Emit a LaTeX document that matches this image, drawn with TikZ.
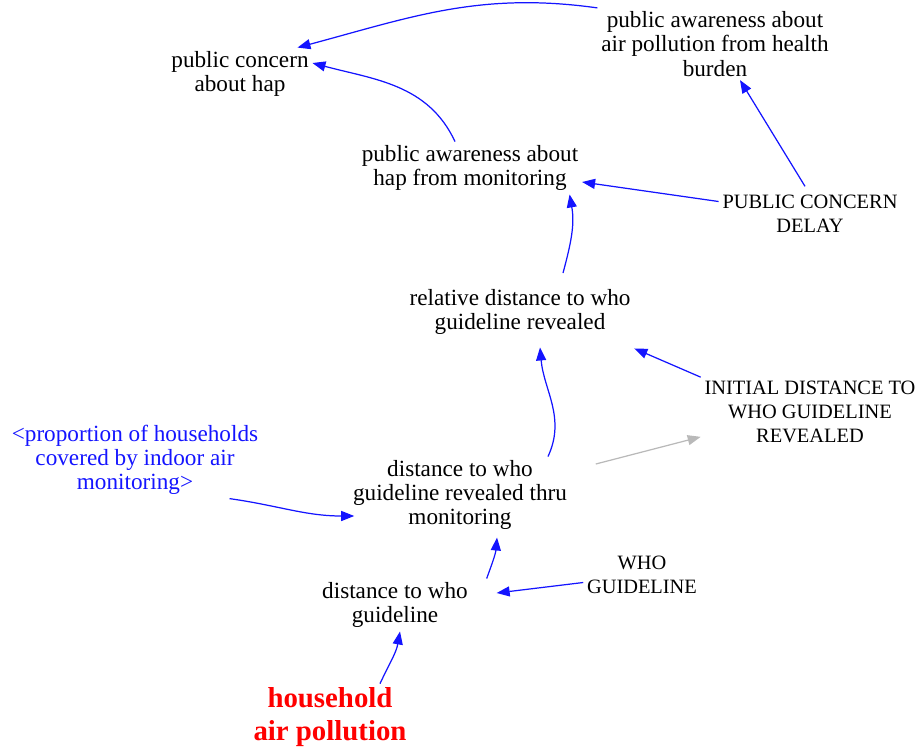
\documentclass[tikz,border=0pt]{standalone}
\usepackage{fontspec}
\setmainfont{Liberation Serif}
\usepackage{xcolor}
\usepackage{tikz}
\usetikzlibrary{positioning,calc,arrows.meta}

\definecolor{linkblue}{RGB}{20,20,255}
\definecolor{shadowgray}{RGB}{185,185,185}
\definecolor{hapred}{RGB}{255,0,0}

\tikzset{
  var/.style={align=center,inner sep=2pt,font=\fontsize{13.2}{13.7}\selectfont},
  constvar/.style={var,font=\fontsize{11.6}{13.7}\selectfont},
  shadowvar/.style={var,text=linkblue},
  keyvar/.style={align=center,inner sep=2pt,text=hapred,font=\bfseries\fontsize{16.4}{18.7}\selectfont},
  link/.style={draw=linkblue,line width=0.7pt,-{Triangle[length=2.6mm,width=2mm]}},
  graylink/.style={link,draw=shadowgray,-{Triangle[length=2.6mm,width=2mm,fill=shadowgray]}}
}

\begin{document}
\begin{tikzpicture}
    \useasboundingbox (0,0) rectangle (18.38,-15);
    % variables
    \node[var] (concern) at (4.80,-1.48) {public concern\\about hap};
    \node[var] (awareHealth) at (14.30,-0.88) {public awareness about\\air pollution from health\\burden};
    \node[var] (awareMon) at (9.40,-3.36) {public awareness about\\hap from monitoring};
    \node[constvar] (delay) at (16.20,-4.28) {PUBLIC CONCERN\\DELAY};
    \node[var] (relDist) at (10.40,-6.24) {relative distance to who\\guideline revealed};
    \node[constvar] (initDist) at (16.20,-8.24) {INITIAL DISTANCE TO\\WHO GUIDELINE\\REVEALED};
    \node[shadowvar] (coverage) at (2.70,-9.20) {<proportion of households\\covered by indoor air\\monitoring>};
    \node[var] (distMon) at (9.20,-9.90) {distance to who\\guideline revealed thru\\monitoring};
    \node[constvar] (whoLimit) at (12.84,-11.50) {WHO\\GUIDELINE};
    \node[var] (dist) at (7.90,-12.10) {distance to who\\guideline};
    \node[keyvar] (hap) at (6.60,-14.34) {household\\air pollution};
    % upper links
    \draw[link] (awareHealth.north west) to[out=172,in=15] ([xshift=-0.3cm]concern.north east);
    \draw[link] ([xshift=-0.3cm]awareMon.north) to[out=115,in=-15] ([yshift=0.22cm]concern.east);
    \draw[link] ([xshift=-0.1cm,yshift=0.1cm]delay.north) -- ([xshift=0.5cm]awareHealth.south);
    \draw[link] ([yshift=0.25cm]delay.west) -- ([yshift=-0.28cm]awareMon.east);
    \draw[link] ([xshift=0.86cm,yshift=0.25cm]relDist.north) to[out=75,in=-80] ([xshift=-0.25cm]awareMon.south east);
    % middle links
    \draw[link] ([xshift=1.76cm]distMon.north) to[out=65,in=-85] ([xshift=0.4cm,yshift=-0.18cm]relDist.south);
    \draw[link] (initDist.north west) -- ([yshift=-0.2cm]relDist.south east);
    \draw[graylink] ([xshift=0.5cm,yshift=-0.15cm]distMon.north east) -- ([yshift=0.2cm]initDist.south west);
    \draw[link] ([xshift=-0.65cm]coverage.south east) to[out=-8,in=180] ([xshift=0.1cm,yshift=-0.42cm]distMon.west);
    % lower links
    \draw[link] ([xshift=0.3cm]dist.north east) to[out=70,in=-95] ([xshift=0.74cm,yshift=-0.08cm]distMon.south);
    \draw[link] ([yshift=-0.15cm]whoLimit.west) -- ([xshift=0.5cm,yshift=0.24cm]dist.east);
    \draw[link] ([xshift=1cm]hap.north) to[out=65,in=-100] ([xshift=0.1cm]dist.south);
\end{tikzpicture}
\end{document}
